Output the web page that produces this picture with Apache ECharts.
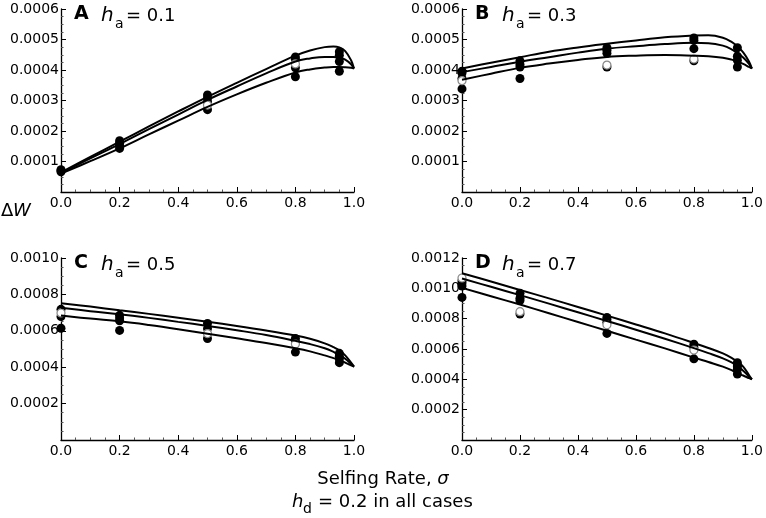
<!DOCTYPE html>
<html>
<head>
    <meta charset="utf-8">
    <script src="https://cdn.jsdelivr.net/npm/echarts@6/dist/echarts.min.js"></script>
    <style>
        html, body { margin: 0; padding: 0; background: #fff; }
        #main { width: 766px; height: 518px; }
    </style>
</head>
<body>
    <div id="main"></div>
    <script>

        // selfing rate grid for the model curves
        var sigma = [0, 0.1, 0.2, 0.3, 0.4, 0.5, 0.6, 0.7, 0.8, 0.85, 0.9, 0.93, 0.95, 0.97, 0.99, 1.0];

        // panel A, h_a = 0.1
        var curveA1 = [0.000064, 0.000115, 0.000165, 0.000215, 0.000264, 0.000312, 0.000358, 0.000403, 0.000447, 0.000464, 0.000475, 0.000477, 0.000474, 0.000462, 0.000432, 0.000405];
        var curveA2 = [0.000062, 0.00011, 0.000157, 0.000206, 0.000254, 0.000302, 0.000346, 0.000389, 0.000428, 0.000438, 0.000443, 0.000443, 0.000441, 0.000434, 0.000419, 0.000405];
        var curveA3 = [0.00006, 0.000101, 0.000143, 0.000189, 0.000234, 0.000279, 0.00032, 0.000358, 0.000392, 0.000402, 0.000408, 0.00041, 0.00041, 0.000409, 0.000407, 0.000405];
        var dotsA = [[0, 0.000073], [0, 0.00007], [0, 0.000066],
            [0.2, 0.000168], [0.2, 0.00016], [0.2, 0.000152], [0.2, 0.000143],
            [0.5, 0.000318], [0.5, 0.000308], [0.5, 0.000296], [0.5, 0.00027],
            [0.8, 0.000443], [0.8, 0.000435], [0.8, 0.000407], [0.8, 0.000378],
            [0.95, 0.00046], [0.95, 0.000448], [0.95, 0.000428], [0.95, 0.000396]];
        var openA = [[0.5, 0.000285], [0.8, 0.00042]];

        // panel B, h_a = 0.3
        var curveB1 = [0.000405, 0.000424, 0.000442, 0.00046, 0.000474, 0.000486, 0.000497, 0.000507, 0.000513, 0.000514, 0.000506, 0.000492, 0.000477, 0.000458, 0.000428, 0.000405];
        var curveB2 = [0.000393, 0.00041, 0.000427, 0.000442, 0.000457, 0.00047, 0.000478, 0.000485, 0.000489, 0.000488, 0.00048, 0.000468, 0.000455, 0.000441, 0.00042, 0.000405];
        var curveB3 = [0.000368, 0.000388, 0.000407, 0.000421, 0.000433, 0.000443, 0.000447, 0.000449, 0.000447, 0.000445, 0.00044, 0.000434, 0.000428, 0.00042, 0.00041, 0.000405];
        var dotsB = [[0, 0.000396], [0, 0.00039], [0, 0.000372], [0, 0.000338],
            [0.2, 0.00043], [0.2, 0.000418], [0.2, 0.00041], [0.2, 0.000372],
            [0.5, 0.000473], [0.5, 0.000465], [0.5, 0.000455], [0.5, 0.00041],
            [0.8, 0.000505], [0.8, 0.000497], [0.8, 0.00047], [0.8, 0.00043],
            [0.95, 0.000473], [0.95, 0.000445], [0.95, 0.000432], [0.95, 0.00041]];
        var openB = [[0, 0.000365], [0.5, 0.000416], [0.8, 0.000436]];

        // panel C, h_a = 0.5
        var curveC1 = [0.000752, 0.000733, 0.000713, 0.000693, 0.000672, 0.00065, 0.000627, 0.000602, 0.000574, 0.000556, 0.000531, 0.00051, 0.000493, 0.000465, 0.000425, 0.000403];
        var curveC2 = [0.000726, 0.000708, 0.000691, 0.000671, 0.000649, 0.000627, 0.000603, 0.000577, 0.000545, 0.000527, 0.000504, 0.000484, 0.000467, 0.000446, 0.000418, 0.000403];
        var curveC3 = [0.000684, 0.000667, 0.000652, 0.000632, 0.000609, 0.000584, 0.000559, 0.000533, 0.000504, 0.000487, 0.000465, 0.00045, 0.00044, 0.000425, 0.00041, 0.000403];
        var dotsC = [[0, 0.000718], [0, 0.000678], [0, 0.000614],
            [0.2, 0.000685], [0.2, 0.00067], [0.2, 0.000655], [0.2, 0.000602],
            [0.5, 0.00064], [0.5, 0.000612], [0.5, 0.000558],
            [0.8, 0.000558], [0.8, 0.00054], [0.8, 0.000483],
            [0.95, 0.000476], [0.95, 0.00046], [0.95, 0.000445], [0.95, 0.000425]];
        var openC = [[0, 0.000698], [0.5, 0.000585], [0.8, 0.000527]];

        // panel D, h_a = 0.7
        var curveD1 = [0.0011, 0.001045, 0.000989, 0.000934, 0.000877, 0.00082, 0.000762, 0.000703, 0.00064, 0.000607, 0.000571, 0.000542, 0.000516, 0.000484, 0.000428, 0.0004];
        var curveD2 = [0.001065, 0.00101, 0.000955, 0.000899, 0.000842, 0.000785, 0.000727, 0.000668, 0.000606, 0.000573, 0.000538, 0.000511, 0.000485, 0.000457, 0.000418, 0.0004];
        var curveD3 = [0.001003, 0.000948, 0.000893, 0.000836, 0.000778, 0.00072, 0.000662, 0.000604, 0.000543, 0.000514, 0.000484, 0.000461, 0.00044, 0.000425, 0.000408, 0.0004];
        var dotsD = [[0, 0.00105], [0, 0.001035], [0, 0.001015], [0, 0.00094],
            [0.2, 0.000967], [0.2, 0.000935], [0.2, 0.00092], [0.2, 0.00083],
            [0.5, 0.000808], [0.5, 0.000795], [0.5, 0.000776], [0.5, 0.000703],
            [0.8, 0.000632], [0.8, 0.000612], [0.8, 0.000535],
            [0.95, 0.00051], [0.95, 0.000495], [0.95, 0.000483], [0.95, 0.000466], [0.95, 0.000435]];
        var openD = [[0, 0.001068], [0.2, 0.000846], [0.5, 0.00076], [0.8, 0.000593]];

        var panels = [
            { letter: 'A', ha: '0.1', left: 61, top: 9, width: 293, height: 183, yMax: 0.0006, yStep: 0.0001,
                curves: [curveA1, curveA2, curveA3], dots: dotsA, open: openA },
            { letter: 'B', ha: '0.3', left: 462, top: 9, width: 291, height: 183, yMax: 0.0006, yStep: 0.0001,
                curves: [curveB1, curveB2, curveB3], dots: dotsB, open: openB },
            { letter: 'C', ha: '0.5', left: 61, top: 258, width: 293, height: 182, yMax: 0.0010, yStep: 0.0002,
                curves: [curveC1, curveC2, curveC3], dots: dotsC, open: openC },
            { letter: 'D', ha: '0.7', left: 462, top: 258, width: 291, height: 182, yMax: 0.0012, yStep: 0.0002,
                curves: [curveD1, curveD2, curveD3], dots: dotsD, open: openD }
        ];

        var font = 'DejaVu Sans';
        var grid = [], xAxis = [], yAxis = [], series = [], graphic = [];

        panels.forEach(function (p, i) {
            grid.push({ left: p.left, top: p.top, width: p.width, height: p.height });

            xAxis.push({
                type: 'value', gridIndex: i, min: 0, max: 1, interval: 0.2,
                axisLine: { show: true, onZero: false, lineStyle: { color: '#000', width: 1.3 } },
                axisTick: { show: true, inside: true, length: 5, lineStyle: { color: '#000' } },
                minorTick: { show: true, splitNumber: 4, length: 2.5, lineStyle: { color: '#555' } },
                splitLine: { show: false },
                axisLabel: {
                    margin: 4, color: '#000', fontFamily: font, fontSize: 14,
                    formatter: function (v) { return v.toFixed(1); }
                }
            });

            yAxis.push({
                type: 'value', gridIndex: i, min: 0, max: p.yMax, interval: p.yStep,
                axisLine: { show: true, onZero: false, lineStyle: { color: '#000', width: 1.3 } },
                axisTick: { show: true, inside: true, length: 5, lineStyle: { color: '#000' } },
                minorTick: { show: true, splitNumber: 4, length: 2.5, lineStyle: { color: '#555' } },
                splitLine: { show: false },
                axisLabel: {
                    margin: 2, color: '#000', fontFamily: font, fontSize: 14,
                    formatter: function (v) { return v === 0 ? '' : v.toFixed(4); }
                }
            });

            series.push({
                type: 'scatter', xAxisIndex: i, yAxisIndex: i, z: 2,
                symbolSize: 9, data: p.dots,
                itemStyle: { color: '#000', opacity: 1 }
            });
            series.push({
                type: 'scatter', xAxisIndex: i, yAxisIndex: i, z: 2,
                symbolSize: 8, data: p.open,
                itemStyle: { color: '#fff', borderColor: '#888', borderWidth: 1.2, opacity: 1 }
            });

            p.curves.forEach(function (c) {
                series.push({
                    type: 'line', xAxisIndex: i, yAxisIndex: i, z: 3,
                    smooth: 0.4, symbol: 'none', silent: true,
                    lineStyle: { color: '#000', width: 2 },
                    data: sigma.map(function (s, k) { return [s, c[k]]; })
                });
            });

            graphic.push(
                { type: 'text', left: p.left + 13, top: p.top - 4,
                    style: { text: p.letter, font: 'bold 19px ' + font, fill: '#000' } },
                { type: 'text', left: p.left + 40, top: p.top - 3,
                    style: { text: 'h', font: 'italic 20px ' + font, fill: '#000' } },
                { type: 'text', left: p.left + 54, top: p.top + 8,
                    style: { text: 'a', font: '14px ' + font, fill: '#000' } },
                { type: 'text', left: p.left + 65, top: p.top - 2,
                    style: { text: '= ' + p.ha, font: '18px ' + font, fill: '#000' } }
            );
        });

        graphic.push(
            { type: 'text', left: 1, top: 202, style: { text: 'Δ', font: '18px ' + font, fill: '#000' } },
            { type: 'text', left: 13, top: 202, style: { text: 'W', font: 'italic 18px ' + font, fill: '#000' } },
            { type: 'text', left: 'center', top: 470,
                style: {
                    text: '{n|Selfing Rate, }{i|σ}',
                    rich: {
                        n: { font: '18px ' + font, fill: '#000' },
                        i: { font: 'italic 18px ' + font, fill: '#000' }
                    }
                } },
            { type: 'text', left: 292, top: 493, style: { text: 'h', font: 'italic 18px ' + font, fill: '#000' } },
            { type: 'text', left: 303, top: 502, style: { text: 'd', font: '14px ' + font, fill: '#000' } },
            { type: 'text', left: 318, top: 493, style: { text: '= 0.2 in all cases', font: '18px ' + font, fill: '#000' } }
        );

        var chart = echarts.init(document.getElementById('main'));
        chart.setOption({
            animation: false,
            backgroundColor: '#fff',
            grid: grid,
            xAxis: xAxis,
            yAxis: yAxis,
            series: series,
            graphic: graphic
        });

    </script>
</body>
</html>
